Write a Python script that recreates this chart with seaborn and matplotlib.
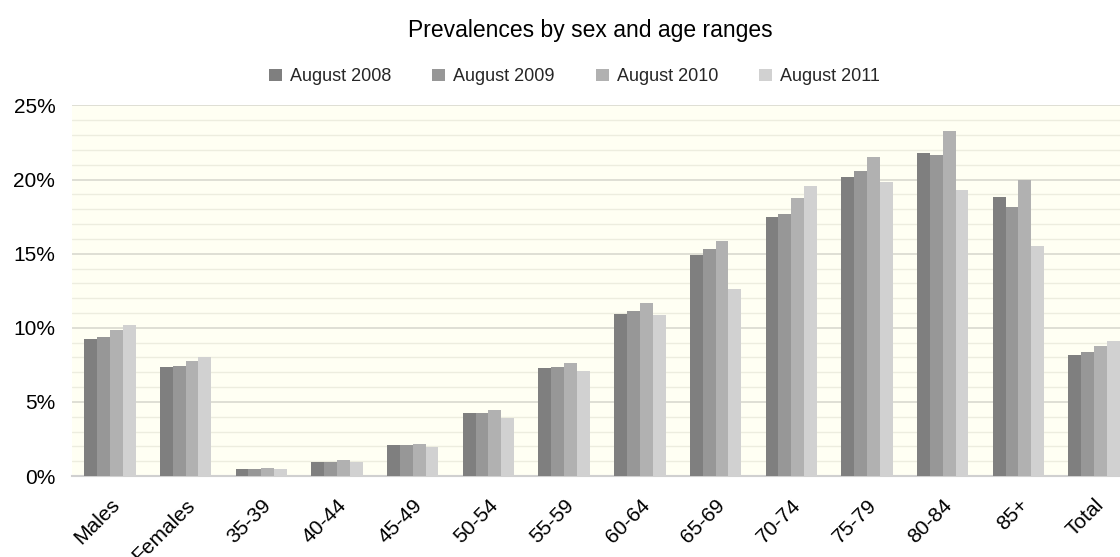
import matplotlib
matplotlib.use("Agg")
import matplotlib.pyplot as plt
from matplotlib.ticker import MultipleLocator, FuncFormatter
import seaborn as sns
import pandas as pd

categories = ["Males", "Females", "35-39", "40-44", "45-49", "50-54", "55-59",
              "60-64", "65-69", "70-74", "75-79", "80-84", "85+", "Total"]
years = ["August 2008", "August 2009", "August 2010", "August 2011"]

aug_2008 = [9.23, 7.34, 0.45, 0.96, 2.06, 4.25, 7.28, 10.91, 14.90, 17.50, 20.17, 21.81, 18.81, 8.19]
aug_2009 = [9.37, 7.43, 0.45, 0.96, 2.06, 4.25, 7.37, 11.16, 15.32, 17.65, 20.61, 21.69, 18.12, 8.35]
aug_2010 = [9.88, 7.76, 0.54, 1.05, 2.15, 4.43, 7.62, 11.67, 15.84, 18.75, 21.54, 23.25, 19.99, 8.78]
aug_2011 = [10.21, 8.01, 0.45, 0.96, 1.97, 3.92, 7.10, 10.85, 12.60, 19.58, 19.85, 19.33, 15.51, 9.12]

colors = ["#7f7f7f", "#979797", "#b1b1b1", "#d1d1d1"]

rows = []
for year, vals in zip(years, [aug_2008, aug_2009, aug_2010, aug_2011]):
    for cat, v in zip(categories, vals):
        rows.append({"group": cat, "period": year, "prevalence": v})
df = pd.DataFrame(rows)

sns.set_theme(style="white")
plt.rcParams["font.family"] = ["Liberation Sans", "DejaVu Sans"]

fig = plt.figure(figsize=(11.2, 5.57), dpi=100)
ax = fig.add_axes([0.0643, 0.1454, 0.9464, 0.6652])
ax.set_facecolor("#fffff3")

sns.barplot(data=df, x="group", y="prevalence", hue="period", order=categories,
            hue_order=years, palette=colors, width=0.68, gap=0,
            saturation=1, errorbar=None, ax=ax, legend=True, zorder=3,
            linewidth=0)

ax.set_xlim(-0.5, len(categories) - 0.5)
ax.set_ylim(0, 25)
ax.yaxis.set_major_locator(MultipleLocator(5))
ax.yaxis.set_minor_locator(MultipleLocator(1))
ax.yaxis.set_major_formatter(FuncFormatter(lambda v, p: f"{v:.0f}%"))
ax.grid(which="major", axis="y", color="#dcdcd2", linewidth=1.3, zorder=0)
ax.grid(which="minor", axis="y", color="#ededdf", linewidth=1.0, zorder=0)
ax.set_axisbelow(True)
for side in ["left", "right", "top"]:
    ax.spines[side].set_visible(False)
ax.spines["bottom"].set_color("#d0d0d0")
ax.spines["bottom"].set_linewidth(1.5)
ax.tick_params(axis="both", which="both", length=0)
ax.tick_params(axis="y", labelsize=15, pad=12, colors="black")
ax.set_xlabel("")
ax.set_ylabel("")
ax.set_xticks(range(len(categories)))
ax.set_xticklabels(categories, rotation=45, ha="right", rotation_mode="anchor",
                   fontsize=15, color="black")
ax.tick_params(axis="x", pad=14)

handles, labels = ax.get_legend_handles_labels()
ax.get_legend().remove()
fig.legend(handles, labels, loc="center", bbox_to_anchor=(0.513, 0.862), ncol=4,
           frameon=False, fontsize=13, handlelength=0.72, handleheight=0.72,
           handletextpad=0.45, columnspacing=2.27)

fig.text(0.527, 0.945, "Prevalences by sex and age ranges", ha="center",
         va="center", fontsize=16.5, color="black")

fig.savefig("out.png", dpi=100)
